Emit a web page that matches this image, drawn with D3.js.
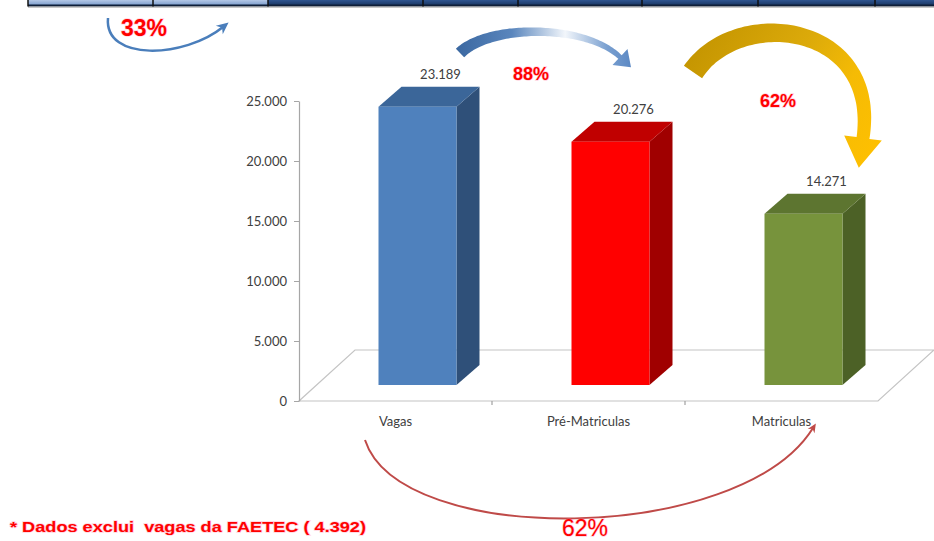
<!DOCTYPE html>
<html><head><meta charset="utf-8">
<script src="https://cdn.jsdelivr.net/npm/d3@7"></script>
<style>body{margin:0;background:#fff;}svg{display:block;}</style>
</head><body>
<svg id="chart" width="934" height="541"></svg>
<script>
// ---- data ----
const categories = ["Vagas", "Pré-Matriculas", "Matriculas"];
const values = [23189, 20276, 14271];
const valueLabels = ["23.189", "20.276", "14.271"];
const yTickValues = [0, 5000, 10000, 15000, 20000, 25000];
const yTickLabels = ["0", "5.000", "10.000", "15.000", "20.000", "25.000"];
const frontColors = ["#4f81bd", "#ff0000", "#77933c"];
const sideColors = ["#2f5079", "#a00000", "#4c6126"];
const topColors = ["#3b6699", "#c00000", "#5d7530"];
const pctLabels = ["88%", "62%", "62%", "33%"];
const footnote = "* Dados exclui  vagas da FAETEC ( 4.392)";
const stripDividers = [28, 153, 268, 423, 518, 642, 758, 875];

const svg = d3.select("#chart");

// ---- top table strip ----
const defs = svg.append("defs");
const gl = defs.append("linearGradient").attr("id","gLight").attr("x1",0).attr("y1",0).attr("x2",0).attr("y2",1);
gl.append("stop").attr("offset",0).attr("stop-color","#b4c8e6");
gl.append("stop").attr("offset",1).attr("stop-color","#7d9dcc");
const gd = defs.append("linearGradient").attr("id","gDark").attr("x1",0).attr("y1",0).attr("x2",0).attr("y2",1);
gd.append("stop").attr("offset",0).attr("stop-color","#2f5590");
gd.append("stop").attr("offset",1).attr("stop-color","#1a3764");
svg.append("rect").attr("x",28).attr("y",6).attr("width",906).attr("height",2).attr("fill","#c8c8c8");
svg.append("rect").attr("x",28).attr("y",0).attr("width",240).attr("height",5).attr("fill","url(#gLight)");
svg.append("rect").attr("x",268).attr("y",0).attr("width",666).attr("height",5).attr("fill","url(#gDark)");
svg.append("rect").attr("x",28).attr("y",4.5).attr("width",906).attr("height",1.8).attr("fill","#0e1e38");
svg.selectAll("line.div").data(stripDividers).enter().append("line")
  .attr("x1",d=>d).attr("x2",d=>d).attr("y1",0).attr("y2",6.5)
  .attr("stroke","#111").attr("stroke-width",1.5);

// ---- scales ----
const x = d3.scaleBand().domain(categories).range([299, 878]).padding(0);
const y = d3.scaleLinear().domain([0, 25000]).range([401, 101]);
const depth = {dx: 56, dy: -51};     // floor depth
const barOff = {dx: 22, dy: -16};    // bar front plane offset
const barDepth = {dx: 23, dy: -20};  // bar thickness
const barW = 78;

// ---- floor ----
const fl = svg.append("g").attr("stroke","#c4c4c4").attr("stroke-width",1.2).attr("fill","none");
const [x0, x1] = x.range();
const y0 = y(0);
fl.append("polygon").attr("points", [
  [x0, y0], [x1, y0], [x1 + depth.dx, y0 + depth.dy], [x0 + depth.dx, y0 + depth.dy]
].map(p => p.join(",")).join(" "));
fl.selectAll("line.ct").data(categories.slice(1)).enter().append("line")
  .attr("x1", d => x(d)).attr("x2", d => x(d)).attr("y1", y0).attr("y2", y0 + 4)
  .attr("stroke","#a0a0a0");

// ---- y axis ----
const fmtIdx = v => yTickLabels[yTickValues.indexOf(v)];
const yAxis = d3.axisLeft(y).tickValues(yTickValues).tickFormat(fmtIdx).tickSize(5).tickSizeOuter(0).tickPadding(7);
const ga = svg.append("g").attr("transform", `translate(${x0},0)`).call(yAxis);
ga.select(".domain").attr("stroke","#a6a6a6").attr("stroke-width",1.2);
ga.selectAll(".tick line").attr("stroke","#a6a6a6");
ga.selectAll(".tick text").attr("fill","#404040").attr("font-family","Lato, 'Open Sans', sans-serif").attr("font-size",13);

// ---- category labels ----
svg.selectAll("text.cat").data(categories).enter().append("text")
  .attr("x", d => x(d) + x.bandwidth()/2).attr("y", y0 + 25)
  .attr("text-anchor","middle").attr("fill","#404040")
  .attr("font-family","Lato, 'Open Sans', sans-serif").attr("font-size",13)
  .text(d => d);

// ---- 3D bars ----
const bars = svg.selectAll("g.bar").data(values).enter().append("g").attr("class","bar");
function geo(v, i) {
  const cx = x(categories[i]) + x.bandwidth()/2 + barOff.dx;
  const xl = cx - barW/2, xr = cx + barW/2;
  const yb = y(0) + barOff.dy, yt = y(v) + barOff.dy;
  return {xl, xr, yb, yt, cx};
}
const pts = a => a.map(p => p.join(",")).join(" ");
bars.append("polygon").attr("fill", (d,i) => sideColors[i]).attr("points", (d,i) => {
  const g = geo(d,i);
  return pts([[g.xr,g.yt],[g.xr+barDepth.dx,g.yt+barDepth.dy],[g.xr+barDepth.dx,g.yb+barDepth.dy],[g.xr,g.yb]]);
});
bars.append("polygon").attr("fill", (d,i) => topColors[i]).attr("points", (d,i) => {
  const g = geo(d,i);
  return pts([[g.xl,g.yt],[g.xl+barDepth.dx,g.yt+barDepth.dy],[g.xr+barDepth.dx,g.yt+barDepth.dy],[g.xr,g.yt]]);
});
bars.append("rect").attr("fill", (d,i) => frontColors[i])
  .attr("x", (d,i) => geo(d,i).xl).attr("width", barW)
  .attr("y", (d,i) => geo(d,i).yt).attr("height", (d,i) => geo(d,i).yb - geo(d,i).yt);
bars.append("text")
  .attr("x", (d,i) => geo(d,i).cx + barDepth.dx)
  .attr("y", (d,i) => geo(d,i).yt + barDepth.dy - 8)
  .attr("text-anchor","middle").attr("fill","#404040")
  .attr("font-family","Lato, 'Open Sans', sans-serif").attr("font-size",13)
  .text((d,i) => valueLabels[i]);

// ---- annotation arrows ----
function bez(p0,p1,p2,p3,t){
  const u=1-t;
  return [u*u*u*p0[0]+3*u*u*t*p1[0]+3*u*t*t*p2[0]+t*t*t*p3[0],
          u*u*u*p0[1]+3*u*u*t*p1[1]+3*u*t*t*p2[1]+t*t*t*p3[1]];
}
function taperedArrow(p0,p1,p2,p3,w0,w1,headW,headL){
  const N=80, L=[], R=[];
  let last=null;
  for(let k=0;k<=N;k++){
    const t=k/N, p=bez(p0,p1,p2,p3,t);
    const a=bez(p0,p1,p2,p3,Math.max(0,t-0.005)), b=bez(p0,p1,p2,p3,Math.min(1,t+0.005));
    let tx=b[0]-a[0], ty=b[1]-a[1]; const m=Math.hypot(tx,ty); tx/=m; ty/=m;
    const nx=-ty, ny=tx, w=(w0+(w1-w0)*t)/2;
    L.push([p[0]+nx*w,p[1]+ny*w]); R.push([p[0]-nx*w,p[1]-ny*w]);
    last={p,tx,ty,nx,ny};
  }
  const e=last, hw=headW/2;
  const h1=[e.p[0]+e.nx*hw,e.p[1]+e.ny*hw], h2=[e.p[0]-e.nx*hw,e.p[1]-e.ny*hw];
  const tip=[e.p[0]+e.tx*headL,e.p[1]+e.ty*headL];
  const all=[...L,h1,tip,h2,...R.reverse()];
  return "M"+all.map(p=>p[0].toFixed(1)+","+p[1].toFixed(1)).join("L")+"Z";
}
const gb = defs.append("linearGradient").attr("id","gBlue").attr("gradientUnits","userSpaceOnUse")
  .attr("x1",455).attr("y1",0).attr("x2",645).attr("y2",0);
[[0,"#3a67a0"],[0.3,"#5a86bd"],[0.58,"#f2f6fb"],[0.8,"#7aa0d0"],[1,"#4a7bbd"]]
  .forEach(s=>gb.append("stop").attr("offset",s[0]).attr("stop-color",s[1]));
svg.append("path").attr("fill","url(#gBlue)")
  .attr("d", taperedArrow([460,53],[490,24],[585,24],[620,57],12,5,22,15));
const gg = defs.append("linearGradient").attr("id","gGold").attr("gradientUnits","userSpaceOnUse")
  .attr("x1",690).attr("y1",40).attr("x2",880).attr("y2",160);
[[0,"#c39400"],[0.45,"#dcaa0a"],[0.7,"#f5bb05"],[1,"#ffc000"]]
  .forEach(s=>gg.append("stop").attr("offset",s[0]).attr("stop-color",s[1]));
svg.append("path").attr("fill","url(#gGold)")
  .attr("d", taperedArrow([693,72],[738,5],[880,22],[863,138],22,13,38,30));

function thinArrow(p0,p1,p2,p3,color,sw,hl,hw){
  svg.append("path").attr("fill","none").attr("stroke",color).attr("stroke-width",sw)
    .attr("d",`M${p0}C${p1} ${p2} ${p3}`);
  let tx=p3[0]-p2[0], ty=p3[1]-p2[1]; const m=Math.hypot(tx,ty); tx/=m; ty/=m;
  const nx=-ty, ny=tx;
  const tip=[p3[0]+tx*hl*0.6,p3[1]+ty*hl*0.6];
  const base=[tip[0]-tx*hl,tip[1]-ty*hl];
  svg.append("path").attr("fill",color)
    .attr("d",`M${tip}L${base[0]+nx*hw},${base[1]+ny*hw}L${base[0]+tx*hl*0.3},${base[1]+ty*hl*0.3}L${base[0]-nx*hw},${base[1]-ny*hw}Z`);
}
thinArrow([108,18],[104,62],[185,58],[223,27],"#4a7ebb",2.5,12,5.5);
thinArrow([365,440],[400,548],[740,545],[813,428],"#bf4a48",2,9,4);

// ---- percentage labels ----
const pct = [
  {t: pctLabels[0], x: 531, y: 80, s: 18, w: "bold", f: "'Liberation Sans', Arial, sans-serif"},
  {t: pctLabels[1], x: 778, y: 107, s: 18, w: "bold", f: "'Liberation Sans', Arial, sans-serif"},
  {t: pctLabels[2], x: 585, y: 536, s: 23, w: "normal", f: "'Liberation Sans', Arial, sans-serif"},
  {t: pctLabels[3], x: 144, y: 36, s: 23, w: "bold", f: "'Liberation Sans Narrow', 'Liberation Sans', Arial, sans-serif"}
];
svg.selectAll("text.pct").data(pct).enter().append("text")
  .attr("x",d=>d.x).attr("y",d=>d.y).attr("text-anchor","middle")
  .attr("font-family",d=>d.f).attr("font-size",d=>d.s).attr("font-weight",d=>d.w)
  .attr("fill","#ff0000").attr("stroke","rgba(255,120,160,0.35)").attr("stroke-width",1.5)
  .attr("paint-order","stroke").text(d=>d.t);

// ---- footnote ----
svg.append("text").attr("x",10).attr("y",532)
  .attr("font-family","'Liberation Sans', Arial, sans-serif").attr("font-size",15).attr("font-weight","bold")
  .attr("fill","#ff0000").attr("stroke","rgba(255,120,160,0.35)").attr("stroke-width",1.5)
  .attr("paint-order","stroke").attr("xml:space","preserve").style("white-space","pre")
  .attr("textLength",356).attr("lengthAdjust","spacingAndGlyphs")
  .text(footnote);
</script>
</body></html>
